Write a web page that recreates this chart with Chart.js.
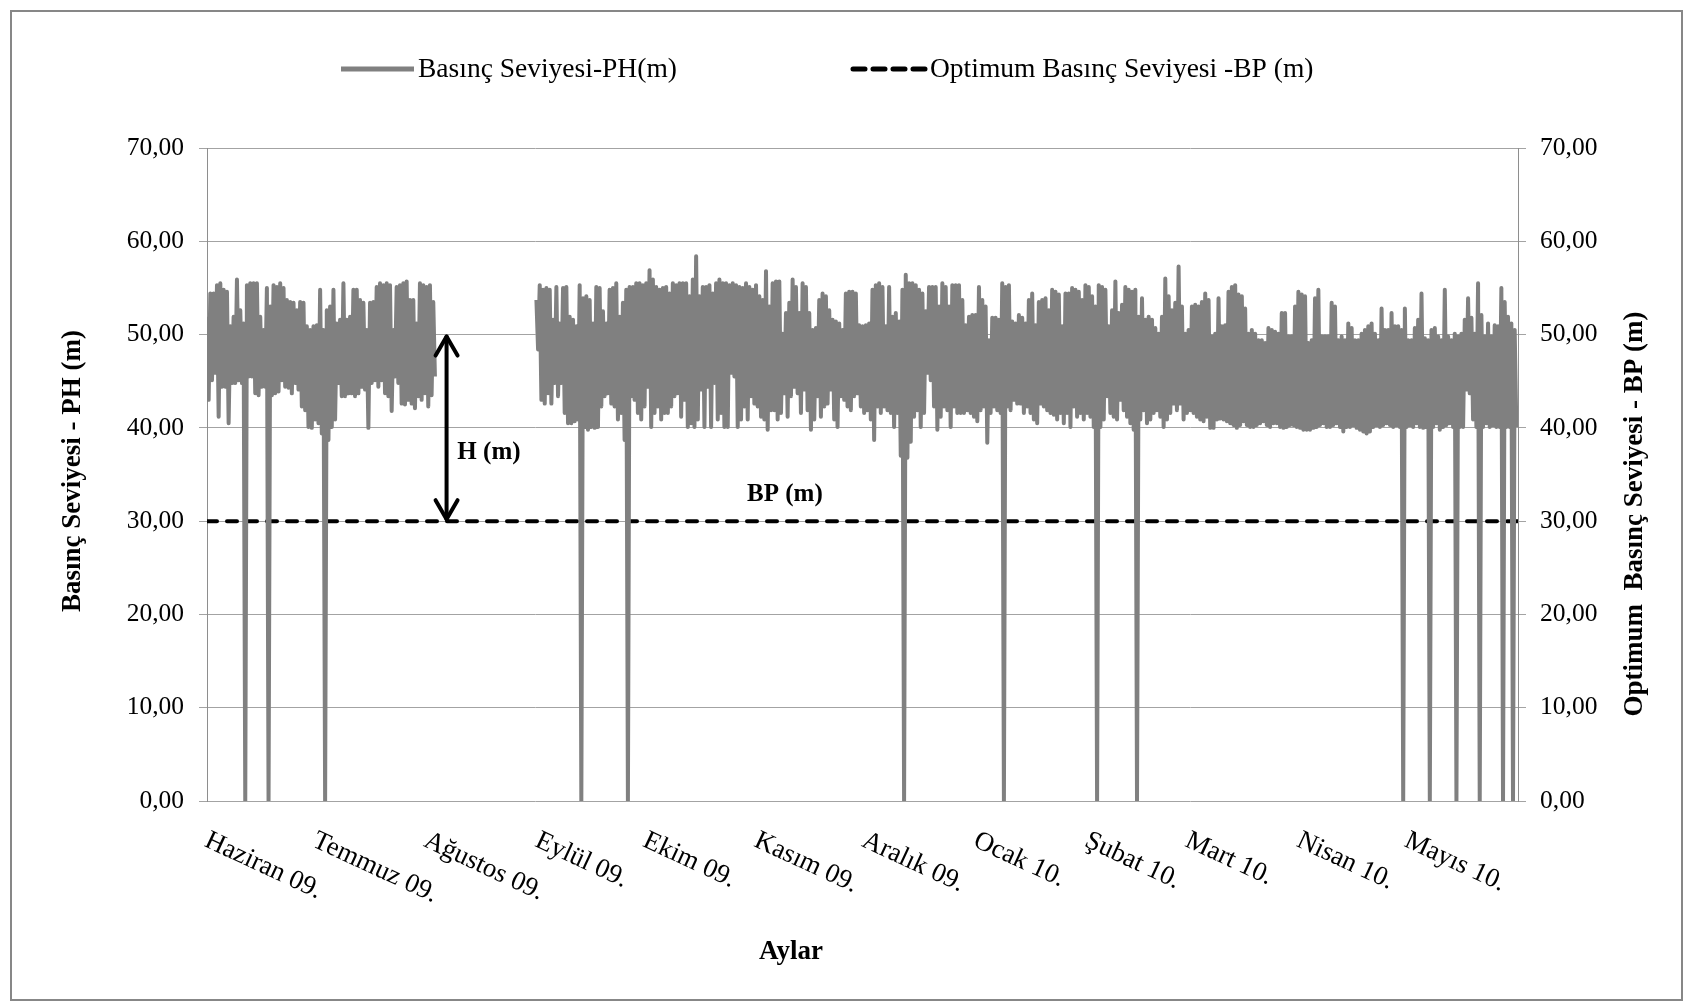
<!DOCTYPE html>
<html lang="tr">
<head>
<meta charset="UTF-8">
<title>Basınç Seviyesi</title>
<script src="https://cdn.jsdelivr.net/npm/chart.js"></script>
<style>
  html, body { margin: 0; padding: 0; background: #fff; }
</style>
</head>
<body>
<canvas id="grafik" width="1693" height="1002"></canvas>
<script>
// aylar (x ekseni), gün olarak ay başları
const monthLabels = ['Haziran 09.', 'Temmuz 09.', 'Ağustos 09.', 'Eylül 09.', 'Ekim 09.', 'Kasım 09.',
    'Aralık 09.', 'Ocak 10.', 'Şubat 10.', 'Mart 10.', 'Nisan 10.', 'Mayıs 10.'];
const monthStartDays = [0, 30, 61, 92, 122, 153, 183, 214, 245, 273, 304, 334];
const totalDays = 365;

// y ekseni
const yMin = 0, yMax = 70, yStep = 10;
const bpLevel = 30;   // optimum basınç seviyesi

// PH okumaları: her örnek için üst ve alt değer (m)
const seg1High = [
    51.9, 54.4, 54.4, 55.3, 55.5, 54.8, 54.6, 50.9, 51.9, 55.9,
    52.6, 51.2, 55.3, 55.5, 55.5, 55.5, 51.9, 50.5, 55.0, 53.0,
    55.3, 55.1, 55.5, 55.0, 53.7, 53.5, 53.4, 52.6, 53.5, 53.4,
    50.9, 50.5, 50.9, 51.0, 54.8, 50.5, 52.6, 53.0, 54.8, 51.2,
    51.6, 55.5, 51.6, 51.9, 54.8, 54.8, 53.7, 53.4, 50.5, 53.4,
    53.5, 55.1, 55.5, 55.3, 55.5, 55.3, 50.5, 55.1, 55.3, 55.5,
    55.7, 53.7, 53.7, 51.2, 55.5, 55.3, 55.1, 55.3, 53.5
];
const seg1Low = [
    43.0, 45.1, 45.9, 41.2, 44.4, 44.4, 40.5, 44.8, 44.8, 45.1,
    44.8, 0, 45.5, 45.5, 43.7, 43.5, 44.4, 44.4, 0, 43.5,
    43.7, 43.9, 45.1, 44.4, 44.3, 43.7, 44.8, 44.1, 42.3, 41.9,
    40.1, 40.0, 40.9, 40.5, 39.4, 0, 38.7, 40.1, 40.9, 44.8,
    43.4, 43.4, 43.7, 43.7, 43.4, 43.7, 44.4, 44.1, 40.0, 44.8,
    45.1, 44.4, 45.1, 43.7, 43.4, 41.8, 45.5, 44.8, 42.6, 42.5,
    43.0, 42.6, 42.1, 43.4, 43.0, 43.7, 42.3, 43.5, 45.5
];
const gapSamples = 30;   // Ağustos sonu veri yok
const seg2High = [
    53.7, 55.3, 54.8, 55.0, 54.8, 51.6, 55.1, 51.2, 55.0, 55.1,
    51.9, 51.6, 50.9, 55.3, 53.9, 54.1, 53.7, 51.2, 55.1, 55.0,
    52.5, 51.2, 54.8, 55.0, 55.5, 51.9, 53.4, 54.8, 55.1, 55.1,
    55.5, 55.5, 55.3, 55.5, 56.9, 55.9, 55.1, 54.8, 55.0, 55.1,
    54.4, 55.5, 55.3, 55.5, 55.5, 55.5, 54.1, 55.9, 58.4, 54.1,
    55.1, 55.1, 55.3, 54.4, 55.5, 55.9, 55.5, 55.5, 55.3, 55.5,
    55.3, 55.1, 55.0, 55.5, 55.1, 54.8, 55.3, 54.1, 53.7, 56.8,
    53.0, 55.5, 55.7, 55.7, 50.1, 52.3, 53.4, 55.9, 55.1, 52.3,
    55.5, 55.1, 52.3, 50.5, 50.7, 53.7, 54.4, 54.1, 52.6, 51.6,
    51.4, 51.2, 50.5, 54.4, 54.6, 54.6, 54.4,
    51.0, 50.9, 51.0, 51.2, 54.8, 55.3, 55.5, 55.1, 50.9, 55.1,
    51.9, 52.3, 51.4, 54.8, 56.4, 55.5, 55.5, 55.3, 54.8, 54.4,
    52.5, 55.1, 55.1, 55.1, 53.0, 55.5, 55.1, 53.0, 55.3, 55.3,
    55.3, 53.7, 51.0, 51.9, 52.1, 52.1, 55.1, 53.7, 53.0, 49.4,
    51.8, 51.8, 51.6, 55.5, 55.1, 55.3, 51.4, 51.2, 52.1, 51.8,
    51.2, 53.7, 54.4, 51.0, 53.5, 53.7, 53.9, 52.6, 54.8, 54.6,
    54.3, 50.9, 54.4, 54.4, 55.0, 54.8, 54.6, 53.7, 55.3, 55.1,
    54.1, 53.0, 55.3, 55.1, 54.8, 50.9, 52.6, 55.7, 52.3, 53.2,
    55.1, 54.8, 54.6, 54.8, 51.9, 53.9, 51.6, 51.9, 51.6, 50.7,
    50.1, 51.9, 56.0, 54.1, 52.6, 53.4, 57.3, 53.0, 50.1,
    50.5, 53.0, 53.2, 53.0, 53.5, 54.4, 53.7, 49.8, 50.1, 53.9,
    50.9, 51.0, 54.6, 55.1, 55.3, 54.3, 54.1, 52.8, 50.1, 50.5,
    50.1, 49.4, 49.4, 49.1, 50.7, 50.5, 50.3, 50.1, 52.3, 52.3,
    49.8, 49.8, 53.0, 54.6, 54.3, 54.1, 49.1, 49.4, 53.9, 54.8,
    49.8, 49.8, 49.8, 53.4, 53.0, 49.4, 49.8, 49.4, 51.2, 50.7,
    49.4, 49.4, 50.1, 50.5, 50.9, 51.2, 50.1, 49.4, 52.8, 50.5,
    50.5, 52.3, 50.9, 50.9, 50.5, 52.8, 49.4, 49.4, 50.7, 51.6,
    54.4, 49.6, 49.4, 50.5, 50.7, 49.8, 49.4, 54.8, 49.8, 49.4,
    50.1, 49.8, 50.1, 51.6, 53.9, 51.8, 50.1, 55.5, 52.1, 49.8,
    51.2, 49.8, 51.0, 50.9, 55.0, 53.5, 51.9, 51.2, 50.5
];
const seg2Low = [
    48.4, 43.0, 42.6, 43.7, 42.6, 44.8, 43.4, 44.8, 41.6, 40.5,
    40.5, 40.7, 40.9, 0, 40.1, 39.8, 40.1, 40.0, 40.1, 42.3,
    43.4, 43.7, 42.6, 42.3, 40.9, 41.6, 38.7, 0, 43.4, 43.0,
    41.6, 40.9, 42.3, 44.4, 40.1, 41.6, 42.3, 40.9, 41.6, 41.6,
    42.3, 43.4, 43.7, 41.2, 43.0, 40.1, 40.5, 40.1, 40.9, 44.1,
    40.1, 44.4, 40.1, 44.8, 40.9, 41.6, 40.1, 40.1, 45.9, 45.5,
    40.1, 40.9, 42.3, 40.9, 43.4, 42.6, 42.3, 41.2, 40.9, 39.8,
    41.9, 41.9, 40.9, 41.6, 43.7, 41.2, 43.4, 44.4, 43.7, 41.6,
    44.1, 41.9, 39.8, 40.9, 43.4, 41.2, 42.3, 42.6, 44.1, 40.9,
    40.1, 43.4, 43.0, 42.3, 41.9, 43.4, 43.7,
    42.3, 41.6, 41.9, 40.9, 38.7, 42.3, 41.6, 42.3, 41.9, 41.6,
    40.1, 41.6, 37.0, 0, 36.8, 38.5, 41.2, 41.9, 40.1, 41.6,
    45.9, 45.1, 42.3, 39.8, 41.2, 42.3, 41.9, 40.1, 42.3, 41.6,
    41.6, 41.6, 41.9, 41.6, 41.2, 40.7, 41.9, 42.3, 38.4, 41.6,
    42.3, 41.9, 41.6, 0, 42.3, 41.9, 43.0, 42.6, 42.6, 41.6,
    42.3, 41.6, 40.9, 40.5, 42.6, 42.3, 41.9, 41.6, 41.4, 40.9,
    41.6, 40.5, 41.6, 40.1, 42.3, 41.2, 41.6, 40.9, 41.6, 41.2,
    40.1, 0, 40.1, 40.9, 43.4, 41.6, 41.2, 40.9, 43.0, 41.9,
    41.2, 40.5, 39.8, 0, 40.9, 41.9, 40.5, 40.9, 41.6, 41.9,
    41.2, 40.1, 40.9, 41.6, 42.6, 41.9, 42.6, 40.9, 41.6,
    41.9, 41.6, 41.2, 40.9, 40.7, 41.2, 40.0, 40.0, 40.9, 41.0,
    40.9, 40.7, 40.5, 40.3, 40.0, 40.3, 40.7, 40.3, 40.1, 40.1,
    40.3, 40.5, 40.7, 40.3, 40.1, 40.5, 40.5, 40.1, 40.0, 40.1,
    40.3, 40.3, 40.1, 40.0, 39.8, 39.8, 39.8, 40.0, 40.1, 40.3,
    40.5, 40.1, 40.1, 40.3, 40.5, 40.1, 39.6, 40.1, 40.1, 40.3,
    40.0, 39.8, 39.6, 39.4, 39.6, 40.1, 40.3, 40.1, 40.3, 40.5,
    40.3, 40.1, 40.3, 40.1, 0, 40.1, 40.3, 40.1, 40.5, 40.1,
    40.0, 40.1, 0, 40.1, 40.5, 39.8, 40.1, 40.3, 40.5, 40.1,
    0, 40.1, 40.1, 44.1, 43.7, 40.9, 40.1, 0, 40.1, 40.5,
    40.1, 40.3, 40.1, 40.1, 0, 40.1, 40.1, 0, 40.1
];

// açıklama yazıları (gün, m)
const arrowDay = 66.7;
const hLabel = { text: 'H (m)', day: 78.5, value: 37.4 };
const bpLabel = { text: 'BP (m)', day: 160.9, value: 32.8 };

const serif = "'Liberation Serif', 'Times New Roman', serif";

const phHigh = seg1High.concat(Array(gapSamples).fill(null), seg2High);
const phLow = seg1Low.concat(Array(gapSamples).fill(null), seg2Low);
const step = totalDays / phHigh.length;
const phPoints = [];
for (let k = 0; k < phHigh.length; k++) {
    phPoints.push({ x: k * step, y: phHigh[k] });
    phPoints.push({ x: (k + 0.5) * step, y: phLow[k] });
}

function virgul(v) {
    return Number(v).toFixed(2).replace('.', ',');
}

const cizimler = {
    id: 'cizimler',
    beforeDraw(chart) {
        const c = chart.ctx;
        c.save();
        c.fillStyle = '#fff';
        c.fillRect(0, 0, chart.width, chart.height);
        c.strokeStyle = '#878787';
        c.lineWidth = 2;
        c.strokeRect(11, 11, 1671, 989);
        c.restore();
    },
    afterDraw(chart) {
        const c = chart.ctx;
        const xs = chart.scales.x, ys = chart.scales.y;
        const ds = chart.data.datasets;
        c.save();
        c.fillStyle = '#000';

        // lejant
        const legendY = 69;
        const starts = [341, 853];
        ds.forEach(function (d, i) {
            c.strokeStyle = d.borderColor;
            c.lineWidth = 5;
            c.lineCap = d.borderDash ? 'round' : 'butt';
            c.setLineDash(d.borderDash ? [12, 8] : []);
            c.beginPath();
            c.moveTo(starts[i], legendY);
            c.lineTo(starts[i] + 73, legendY);
            c.stroke();
            c.setLineDash([]);
            c.font = '27.5px ' + serif;
            c.textAlign = 'left';
            c.textBaseline = 'middle';
            c.fillText(d.label, starts[i] + 77, legendY + 1);
        });

        // ay etiketleri (eğik)
        c.font = '27px ' + serif;
        c.textAlign = 'left';
        c.textBaseline = 'top';
        monthLabels.forEach(function (m, i) {
            const px = xs.getPixelForValue(monthStartDays[i]);
            c.save();
            c.translate(px + 5, 827);
            c.rotate(25 * Math.PI / 180);
            c.fillText(m, 0, 0);
            c.restore();
        });

        // eksen başlıkları
        c.font = 'bold 27px ' + serif;
        c.textAlign = 'center';
        c.textBaseline = 'middle';
        c.fillText('Aylar', 791, 952);
        c.save();
        c.translate(73, 471);
        c.rotate(-Math.PI / 2);
        c.fillText('Basınç Seviyesi - PH (m)', 0, 0);
        c.restore();
        c.save();
        c.translate(1635, 514);
        c.rotate(-Math.PI / 2);
        c.fillText('Optimum  Basınç Seviyesi - BP (m)', 0, 0);
        c.restore();

        // H oku
        const ax = xs.getPixelForValue(arrowDay);
        const yTop = ys.getPixelForValue(50) + 2;
        const yBot = ys.getPixelForValue(bpLevel) - 2;
        c.strokeStyle = '#000';
        c.lineWidth = 4;
        c.lineCap = 'round';
        c.lineJoin = 'round';
        c.beginPath();
        c.moveTo(ax, yTop);
        c.lineTo(ax, yBot);
        c.stroke();
        c.beginPath();
        c.moveTo(ax - 11, yTop + 19);
        c.lineTo(ax, yTop);
        c.lineTo(ax + 11, yTop + 19);
        c.stroke();
        c.beginPath();
        c.moveTo(ax - 11, yBot - 19);
        c.lineTo(ax, yBot);
        c.lineTo(ax + 11, yBot - 19);
        c.stroke();

        c.font = 'bold 25px ' + serif;
        c.textAlign = 'center';
        c.textBaseline = 'middle';
        [hLabel, bpLabel].forEach(function (a) {
            c.fillText(a.text, xs.getPixelForValue(a.day), ys.getPixelForValue(a.value));
        });
        c.restore();
    }
};

const tickFont = { family: serif, size: 25.5 };

new Chart(document.getElementById('grafik'), {
    type: 'line',
    data: {
        datasets: [{
            label: 'Basınç Seviyesi-PH(m)',
            data: phPoints,
            borderColor: '#808080',
            borderWidth: 4,
            borderJoinStyle: 'round',
            pointRadius: 0,
            tension: 0,
            spanGaps: false,
            yAxisID: 'y'
        }, {
            label: 'Optimum Basınç Seviyesi -BP (m)',
            data: [{ x: 0, y: bpLevel }, { x: totalDays, y: bpLevel }],
            borderColor: '#000000',
            borderWidth: 4,
            borderDash: [10, 10],
            borderCapStyle: 'round',
            pointRadius: 0,
            yAxisID: 'y2'
        }]
    },
    options: {
        responsive: false,
        animation: false,
        layout: { padding: { top: 148, bottom: 201, left: 0, right: 0 } },
        plugins: {
            legend: { display: false },
            tooltip: { enabled: false }
        },
        scales: {
            x: {
                type: 'linear',
                min: 0,
                max: totalDays,
                display: false
            },
            y: {
                position: 'left',
                min: yMin,
                max: yMax,
                ticks: { stepSize: yStep, callback: virgul, font: tickFont, color: '#000', padding: 15 },
                grid: { color: '#a3a3a3', tickLength: 8 },
                border: { color: '#8e8e8e' },
                afterFit: function (s) { s.width = 207; }
            },
            y2: {
                position: 'right',
                min: yMin,
                max: yMax,
                ticks: { stepSize: yStep, callback: virgul, font: tickFont, color: '#000', padding: 14 },
                grid: { drawOnChartArea: false, color: '#a3a3a3', tickLength: 8 },
                border: { color: '#8e8e8e' },
                afterFit: function (s) { s.width = 175; }
            }
        }
    },
    plugins: [cizimler]
});
</script>
</body>
</html>
